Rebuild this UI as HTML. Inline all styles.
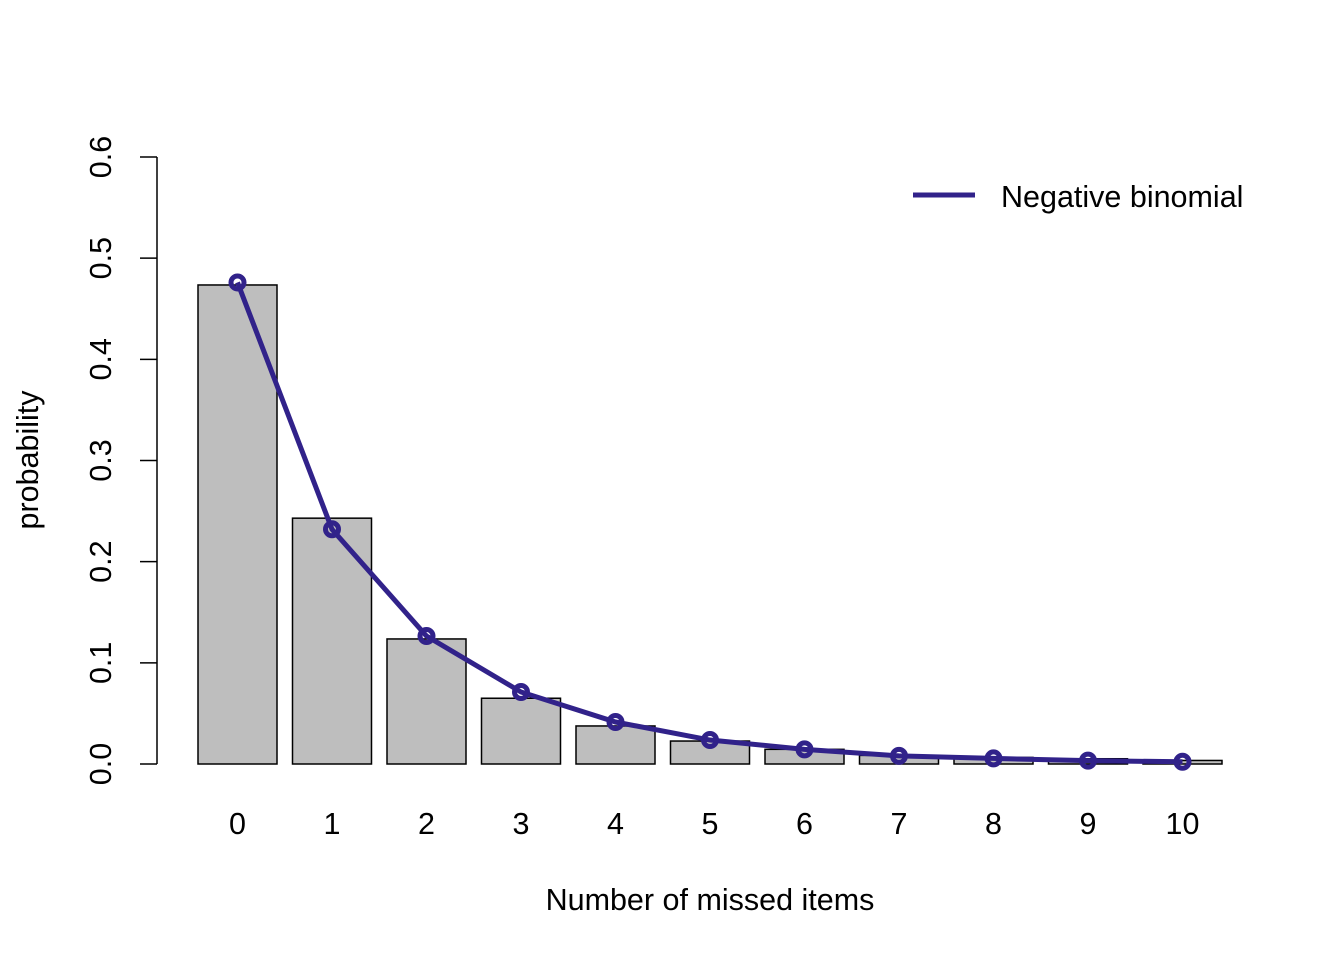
<!DOCTYPE html>
<html><head><meta charset="utf-8"><style>
body{margin:0;background:#fff}
svg text{font-family:"Liberation Sans",Arial,sans-serif;fill:#000}
</style></head><body>
<svg id="chart" width="1344" height="960" xmlns="http://www.w3.org/2000/svg"></svg>
<script>
const categories=[0,1,2,3,4,5,6,7,8,9,10];
const observed=[0.4735,0.243,0.1236,0.065,0.0376,0.0227,0.0145,0.0085,0.0065,0.0052,0.0035];
const negbin=[0.476,0.232,0.1265,0.0712,0.0415,0.0237,0.0145,0.0080,0.0055,0.0033,0.0022];
const yTicks=[0,0.1,0.2,0.3,0.4,0.5,0.6];
const yTickLabels=["0.0","0.1","0.2","0.3","0.4","0.5","0.6"];
const NS="http://www.w3.org/2000/svg";
const svg=document.getElementById('chart');
const FS=30.5;
function y(v){return 764-v*(607/0.6);}
function x(i){return 237.5+i*94.5;}
function mk(t,a,p){const e=document.createElementNS(NS,t);for(const k in a)e.setAttribute(k,a[k]);(p||svg).appendChild(e);return e;}
const bars=mk('g',{});


categories.forEach((c,i)=>{const r=mk('rect',{x:x(i)-39.5,y:y(observed[i]),width:79,height:y(0)-y(observed[i]),fill:'#bebebe',stroke:'#000','stroke-width':1.5},bars);


const t=mk('text',{x:x(i),y:834,'font-size':FS,'text-anchor':'middle'});t.textContent=c;

});
const ya=mk('g',{});


mk('line',{x1:157,x2:157,y1:y(0),y2:y(0.6),stroke:'#000','stroke-width':1.5},ya);
yTicks.forEach((v,i)=>{mk('line',{x1:140,x2:157,y1:y(v),y2:y(v),stroke:'#000','stroke-width':1.5},ya);
const t=mk('text',{x:0,y:0,'font-size':FS,'text-anchor':'middle',transform:`translate(111,${y(v)}) rotate(-90)`},ya);t.textContent=yTickLabels[i];

});
const pts=negbin.map((v,i)=>x(i)+','+y(v)).join(' ');
const line=mk('polyline',{points:pts,fill:'none',stroke:'#31228a','stroke-width':5});


negbin.forEach((v,i)=>{const c=mk('circle',{cx:x(i),cy:y(v),r:6.5,fill:'none',stroke:'#31228a','stroke-width':5});

});
const xt=mk('text',{x:710,y:910,'font-size':FS,'text-anchor':'middle'});xt.textContent='Number of missed items';


const yt=mk('text',{x:0,y:0,'font-size':FS,'text-anchor':'middle',transform:'translate(38,460) rotate(-90)'});yt.textContent='probability';


const lg=mk('g',{});


mk('line',{x1:913,x2:975,y1:195,y2:195,stroke:'#31228a','stroke-width':5},lg);
const lt=mk('text',{x:1001,y:207,'font-size':FS},lg);lt.textContent='Negative binomial';
</script>
</body></html>
